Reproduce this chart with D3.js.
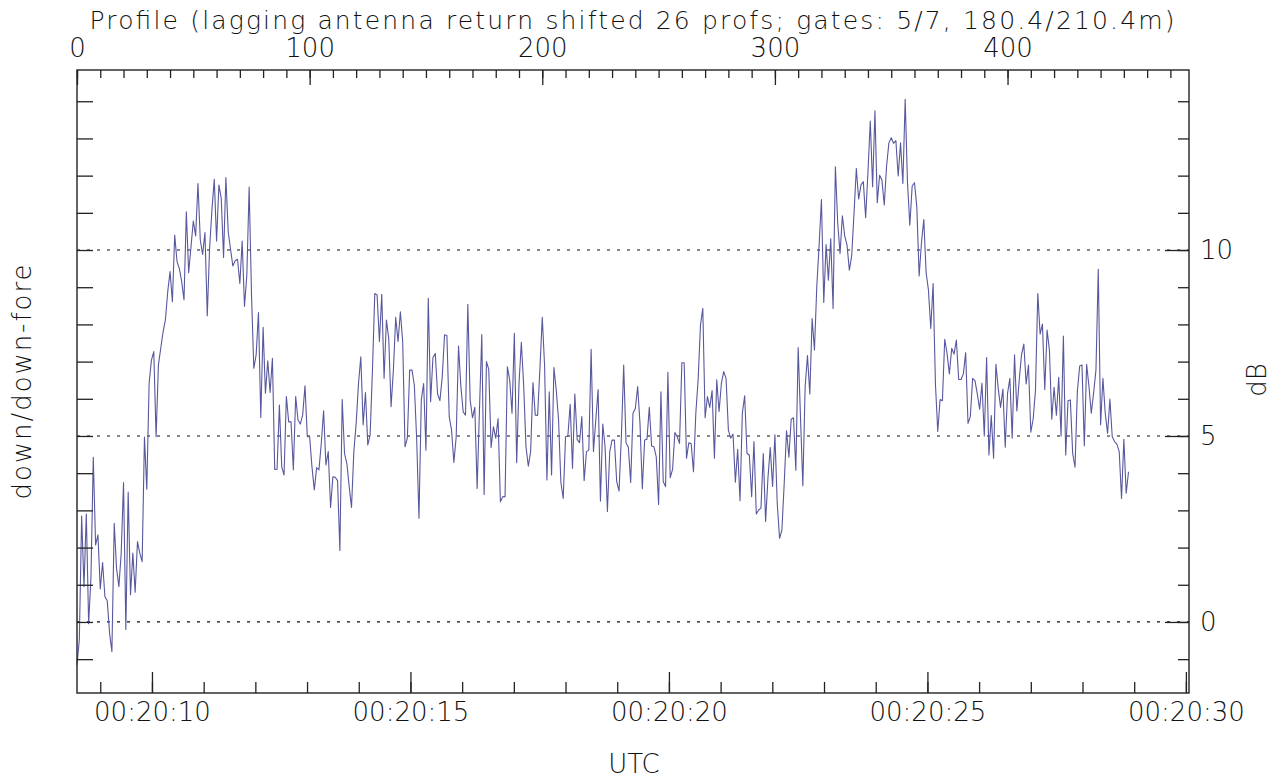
<!DOCTYPE html>
<html>
<head>
<meta charset="utf-8">
<script src="https://cdn.jsdelivr.net/npm/d3@7"></script>
<style>
  body { margin: 0; background: #fff; }
  text { font-family: "DejaVu Sans", sans-serif; font-weight: 200; fill: #111; }
</style>
</head>
<body>
<div id="chartArea"></div>
<script>
var width = 1275,
    height = 778;

var margin = {left: 77, right: 86, top: 70, bottom: 85};

// down/down-fore ratio (dB), one value per profile
var ratio_db = [
  -1.15, -0.48, 2.85, 0.95, 2.9, -0.05, 1.2, 4.43, 2.07, 2.34, 0.89, 1.6, 0.68, 0.57, -0.3, -0.8,
  2.65, 1.44, 0.95, 1.85, 3.75, -0.2, 3.49, 0.73, 1.85, 0.8, 2.16, 1.85, 1.62, 4.97, 3.57, 6.42,
  7.04, 7.27, 4.98, 6.91, 7.36, 7.8, 8.12, 8.88, 9.42, 8.61, 10.4, 9.69, 9.5, 9.15, 8.66, 11.03,
  9.39, 10.09, 10.78, 10.38, 11.79, 10.27, 9.88, 10.47, 8.23, 10.05, 11.08, 11.9, 10.24, 11.75,
  11.39, 9.8, 11.95, 10.49, 10.02, 9.57, 9.71, 9.75, 9.1, 10.24, 8.48, 9.33, 11.69, 8.84,

  6.82, 7.18, 8.32, 5.5, 7.92, 6.15, 7.02, 6.17, 7.09, 4.1, 4.11, 5.83, 4.17, 3.95, 6.06, 5.38,
  5.38, 4.09, 6.06, 5.43, 5.32, 5.56, 6.35, 4.98, 4.98, 4.17, 3.55, 4.15, 4.09, 4.8, 5.68, 4.22,
  4.58, 3.08, 3.9, 3.89, 3.8, 1.92, 5.98, 4.53, 4.26, 3.64, 3.08, 4.58, 5.34, 6.41, 7.13, 5.3,
  6.17, 4.76, 5.03, 6.77, 8.83, 8.79, 7.54, 8.81, 6.55, 8.12, 7.62, 5.79, 6.77, 8.19, 7.54, 8.34,
  7.54, 4.71, 4.94, 6.77, 6.77, 6.37, 4.94, 2.79, 5.97, 6.41, 4.62,

  8.7, 5.92, 7.11, 7.22, 6.13, 5.95, 6.59, 7.72, 7.7, 5.52, 5.16, 4.29, 4.98, 7.42, 6.34, 5.65,
  5.56, 8.54, 5.97, 5.49, 5.77, 3.59, 5.7, 7.73, 3.43, 7.0, 6.79, 4.69, 5.25, 4.94, 5.47, 3.23,
  3.37, 3.37, 6.86, 6.5, 5.61, 7.76, 4.28, 6.41, 7.52, 6.37, 4.71, 4.19, 4.58, 6.44, 5.56, 5.55,
  6.82, 8.19, 6.88, 3.82, 6.19, 3.95, 6.84, 6.24, 5.43, 3.75, 3.32, 4.98, 5.0, 5.85, 4.13, 6.13,
  4.91, 4.82, 5.52, 3.8, 4.58, 4.62, 7.33, 4.58, 5.43, 6.25, 3.25,

  5.32, 4.71, 2.97, 4.58, 4.89, 4.89, 3.77, 3.52, 4.98, 6.91, 4.82, 4.7, 3.75, 5.61, 5.74, 6.33,
  5.34, 3.58, 4.89, 4.91, 5.77, 4.73, 4.71, 4.44, 3.16, 6.19, 3.77, 3.64, 6.71, 3.88, 4.1, 5.09,
  4.98, 4.8, 6.97, 6.97, 4.4, 4.82, 4.79, 4.04, 5.61, 6.51, 7.98, 8.43, 5.49, 6.06, 5.77, 6.22,
  4.4, 6.51, 5.66, 6.42, 6.73, 6.55, 5.16, 4.94, 5.05, 3.76, 4.64, 3.26, 5.61, 6.08, 4.53, 4.49,
  3.37, 4.85, 2.9, 3.01, 3.06, 4.53, 2.7, 3.86, 4.69, 3.64, 5.03,

  3.19, 2.25, 2.47, 3.73, 5.14, 4.43, 5.45, 5.49, 4.08, 7.38, 5.5, 3.66, 6.33, 7.16, 6.13, 8.16,
  7.31, 9.01, 10.13, 11.36, 8.59, 10.15, 9.19, 10.31, 8.43, 12.24, 10.72, 9.91, 10.92, 10.38, 10.13, 9.46,
  9.84, 10.98, 12.19, 11.37, 11.75, 11.84, 10.87, 12.1, 13.47, 11.7, 13.74, 11.27, 12.01, 11.88, 11.21, 12.26,
  12.88, 13.02, 12.87, 12.94, 11.99, 12.88, 11.79, 14.05, 11.79, 10.67, 11.72, 11.81, 11.16, 9.3, 10.2, 10.82,
  9.39, 8.92, 7.89, 9.1, 6.41, 5.12, 5.98, 5.95, 7.6, 7.22, 6.67, 7.36,

  7.2, 7.58, 6.52, 6.52, 6.67, 7.24, 5.34, 5.52, 6.55, 6.49, 6.13, 5.72, 6.42, 5.0, 7.11, 4.49,
  5.55, 4.4, 6.93, 6.28, 5.77, 6.26, 4.7, 6.15, 6.55, 4.94, 7.18, 5.67, 6.49, 7.18, 7.47, 6.4,
  6.91, 5.1, 5.45, 6.22, 8.83, 7.74, 8.01, 6.25, 7.85, 7.31, 5.45, 6.31, 5.56, 6.58, 5.0, 7.69,
  4.49, 5.95, 5.97, 4.53, 4.16, 6.19, 6.88, 6.91, 4.74, 6.93, 6.33, 5.61, 6.16, 6.77, 9.48, 5.3,
  6.55, 5.61, 5.07, 5.99, 4.98, 4.85, 4.78, 4.58, 3.32, 4.91, 3.46, 4.04
];

var profile_major = [0, 100, 200, 300, 400];
var profile_minor = d3.range(0, 471, 10);
var utc_major = [10, 15, 20, 25, 30];          // seconds after 00:20:00
var utc_minor = d3.range(9, 31, 1);
var db_major = [0, 5, 10];
var db_minor = d3.range(-1, 15, 1);

var title_text = "Profile (lagging antenna return shifted 26 profs; gates: 5/7, 180.4/210.4m)";
var xlabel_text = "UTC";
var ylabel_left = "down/down-fore";
var ylabel_right = "dB";

var svg = d3.select("#chartArea").append("svg")
    .attr("width", width)
    .attr("height", height);

var x0 = margin.left,
    x1 = width - margin.right,
    y0 = margin.top,
    y1 = height - margin.bottom;

var xProf = d3.scaleLinear().domain([0, 478]).range([x0, x1]);
var xTime = d3.scaleLinear().domain([8.55, 30.06]).range([x0, x1]);
var y = d3.scaleLinear().domain([-1.91, 14.84]).range([y1, y0]);

// dotted reference lines
svg.append("g").selectAll("line")
    .data(db_major)
    .enter().append("line")
    .attr("x1", x0).attr("x2", x1)
    .attr("y1", function(d) { return y(d); })
    .attr("y2", function(d) { return y(d); })
    .attr("stroke", "#111")
    .attr("stroke-width", 1.2)
    .attr("stroke-dasharray", "3,7");

// data line
var line = d3.line()
    .x(function(d, i) { return xProf(i); })
    .y(function(d) { return y(d); });

svg.append("path")
    .datum(ratio_db)
    .attr("d", line)
    .attr("fill", "none")
    .attr("stroke", "#58589e")
    .attr("stroke-width", 1.1)
    .attr("stroke-linejoin", "round");

function styleAxis(g) {
  g.select(".domain").remove();
  g.selectAll("line").attr("stroke", "#222").attr("stroke-width", 1.3);
  g.selectAll("text")
    .attr("font-family", "DejaVu Sans, sans-serif")
    .attr("font-weight", 200)
    .attr("font-size", 26)
    .attr("fill", "#111");
}

// top: profile number
svg.append("g")
    .attr("transform", "translate(0," + y0 + ")")
    .call(d3.axisTop(xProf).tickValues(profile_minor).tickSizeInner(-8).tickFormat(""))
    .call(styleAxis);
svg.append("g")
    .attr("transform", "translate(0," + y0 + ")")
    .call(d3.axisTop(xProf).tickValues(profile_major).tickSizeInner(-15).tickPadding(13)
      .tickFormat(d3.format("d")))
    .call(styleAxis);

// bottom: UTC
svg.append("g")
    .attr("transform", "translate(0," + y1 + ")")
    .call(d3.axisBottom(xTime).tickValues(utc_minor).tickSizeInner(-11).tickFormat(""))
    .call(styleAxis);
svg.append("g")
    .attr("transform", "translate(0," + y1 + ")")
    .call(d3.axisBottom(xTime).tickValues(utc_major).tickSizeInner(-21).tickPadding(10)
      .tickFormat(function(d) { return "00:20:" + d3.format("02d")(d); }))
    .call(styleAxis);

// left: ticks only
svg.append("g")
    .attr("transform", "translate(" + x0 + ",0)")
    .call(d3.axisLeft(y).tickValues(db_minor).tickSizeInner(-16).tickFormat(""))
    .call(styleAxis);

// right: dB
svg.append("g")
    .attr("transform", "translate(" + x1 + ",0)")
    .call(d3.axisRight(y).tickValues(db_minor).tickSizeInner(-11).tickFormat(""))
    .call(styleAxis);
svg.append("g")
    .attr("transform", "translate(" + x1 + ",0)")
    .call(d3.axisRight(y).tickValues(db_major).tickSizeInner(-24).tickPadding(11)
      .tickFormat(d3.format("d")))
    .call(styleAxis);

// frame
svg.append("rect")
    .attr("x", x0).attr("y", y0)
    .attr("width", x1 - x0).attr("height", y1 - y0)
    .attr("fill", "none")
    .attr("stroke", "#222")
    .attr("stroke-width", 1.4);

// titles
svg.append("text")
    .attr("x", 632).attr("y", 29)
    .attr("text-anchor", "middle")
    .attr("font-size", 25)
    .attr("textLength", 1085)
    .text(title_text);

svg.append("text")
    .attr("x", 634).attr("y", 773)
    .attr("text-anchor", "middle")
    .attr("font-size", 26)
    .text(xlabel_text);

svg.append("text")
    .attr("transform", "translate(31,382) rotate(-90)")
    .attr("text-anchor", "middle")
    .attr("font-size", 26)
    .attr("textLength", 235)
    .text(ylabel_left);

svg.append("text")
    .attr("transform", "translate(1266,380) rotate(-90)")
    .attr("text-anchor", "middle")
    .attr("font-size", 26)
    .text(ylabel_right);
</script>
</body>
</html>
